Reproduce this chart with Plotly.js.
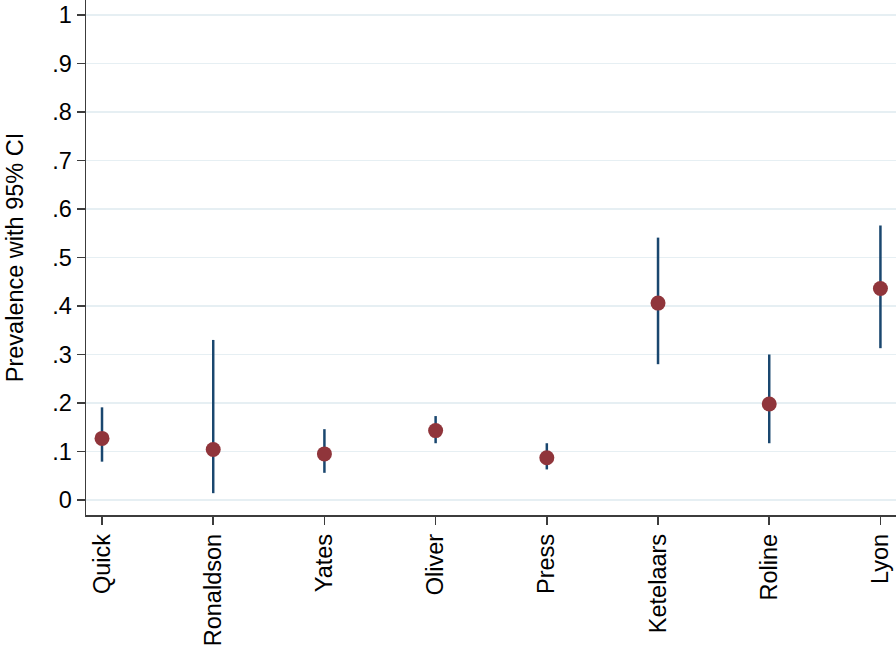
<!DOCTYPE html>
<html>
<head>
<meta charset="utf-8">
<script src="https://cdn.plot.ly/plotly-3.0.1.min.js"></script>
<style>
  html, body { margin: 0; padding: 0; background: #fff; }
  #chart { width: 896px; height: 649px; }
</style>
</head>
<body>
<div id="chart"></div>
<script>
// Prevalence estimates with 95% CI
const studies = ['Quick', 'Ronaldson', 'Yates', 'Oliver', 'Press', 'Ketelaars', 'Roline', 'Lyon'];
const prevalence = [0.127, 0.104, 0.095, 0.143, 0.087, 0.406, 0.198, 0.436];
const ciLower = [0.079, 0.014, 0.056, 0.117, 0.063, 0.280, 0.117, 0.313];
const ciUpper = [0.191, 0.330, 0.146, 0.173, 0.117, 0.541, 0.300, 0.566];
const yTicks = [0, 0.1, 0.2, 0.3, 0.4, 0.5, 0.6, 0.7, 0.8, 0.9, 1];
const yTickText = ['0', '.1', '.2', '.3', '.4', '.5', '.6', '.7', '.8', '.9', '1'];

const xIdx = studies.map((s, i) => i);
const errPlus = ciUpper.map((u, i) => u - prevalence[i]);
const errMinus = ciLower.map((l, i) => prevalence[i] - l);

const font = 'Liberation Sans, Arial, sans-serif';
const axisColor = '#3c3c3c';
const fontSize = 23.5;

const trace = {
    x: xIdx,
    y: prevalence,
    type: 'scatter',
    mode: 'markers',
    marker: { color: '#90353b', size: 15 },
    error_y: {
        type: 'data',
        symmetric: false,
        array: errPlus,
        arrayminus: errMinus,
        color: '#1a476f',
        thickness: 2.5,
        width: 0
    },
    hoverinfo: 'skip'
};

const layout = {
    width: 896,
    height: 649,
    paper_bgcolor: '#fff',
    plot_bgcolor: '#fff',
    margin: { l: 86, r: 0, t: 0, b: 134 },
    showlegend: false,
    font: { family: font, color: '#000', size: fontSize },
    xaxis: {
        range: [-0.144, 7.14],
        tickvals: xIdx,
        ticktext: studies,
        tickangle: -90,
        ticks: 'outside',
        ticklen: 8,
        tickwidth: 1.5,
        tickcolor: axisColor,
        showgrid: false,
        zeroline: false,
        showline: true,
        linecolor: axisColor,
        linewidth: 1.5,
        tickfont: { family: font, size: fontSize, color: '#000' },
        fixedrange: true
    },
    yaxis: {
        range: [-0.031, 1.031],
        tickvals: yTicks,
        ticktext: yTickText,
        ticks: 'outside',
        ticklen: 8,
        tickwidth: 1.5,
        tickcolor: axisColor,
        showgrid: true,
        gridcolor: '#e6eff3',
        gridwidth: 1.5,
        zeroline: false,
        showline: true,
        linecolor: axisColor,
        linewidth: 1.5,
        tickfont: { family: font, size: fontSize, color: '#000' },
        title: { text: 'Prevalence with 95% CI', font: { family: font, size: fontSize, color: '#000' }, standoff: 22 },
        fixedrange: true
    }
};

Plotly.newPlot('chart', [trace], layout, { displayModeBar: false, staticPlot: true });
</script>
</body>
</html>
